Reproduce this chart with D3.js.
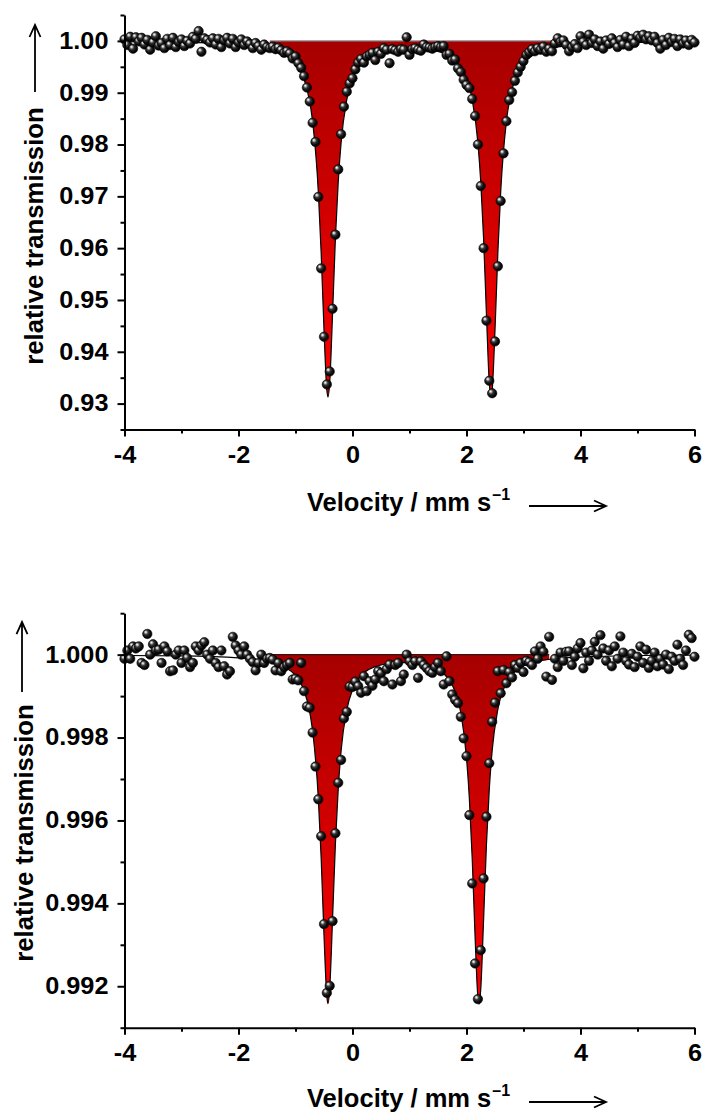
<!DOCTYPE html>
<html lang="en">
<head>
<meta charset="UTF-8">
<title>Mössbauer spectra</title>
<script src="https://cdn.jsdelivr.net/npm/d3@7"></script>
<style>
  body { margin: 0; background: #fff; }
  svg text { font-family: "Liberation Sans", Arial, sans-serif; font-weight: bold; fill: #000; }
</style>
</head>
<body>
<div id="chart"></div>
<script>
// velocity channels: -4 .. 6 mm/s, one point every 0.05 mm/s
const velStart = -4, velStep = 0.05;

// upper spectrum, relative transmission per channel (rows of 10, start velocity in comment)
const transTop = [
  1.0003, 0.9992, 1.0008, 0.9985, 1.0007, 0.9999, 1.0006, 0.9993, 1.0002, 0.9983, // -4.00
  0.9997, 1.0009, 0.9991, 0.9996, 0.9986, 1.0004, 0.9992, 1.0006, 0.9988, 0.9998, // -3.50
  1.0003, 0.9990, 1.0000, 0.9995, 1.0008, 1.0004, 1.0019, 0.9979, 1.0005, 1.0002, // -3.00
  0.9997, 1.0005, 0.9993, 1.0004, 0.9988, 1.0001, 1.0006, 0.9995, 1.0004, 0.9988, // -2.50
  0.9997, 1.0003, 0.9992, 0.9999, 0.9994, 0.9986, 0.9996, 0.9990, 0.9983, 0.9993, // -2.00
  0.9988, 0.9986, 0.9989, 0.9984, 0.9987, 0.9982, 0.9977, 0.9980, 0.9976, 0.9966, // -1.50
  0.9970, 0.9957, 0.9948, 0.9932, 0.9910, 0.9883, 0.9842, 0.9805, 0.9699, 0.9561, // -1.00
  0.9429, 0.9337, 0.9362, 0.9483, 0.9626, 0.9752, 0.9820, 0.9873, 0.9902, 0.9918, // -0.50
  0.9928, 0.9945, 0.9958, 0.9965, 0.9958, 0.9970, 0.9973, 0.9977, 0.9963, 0.9979, //  0.00
  0.9975, 0.9986, 0.9983, 0.9957, 0.9984, 0.9982, 0.9979, 0.9984, 0.9983, 1.0007, //  0.50
  0.9973, 0.9984, 0.9986, 0.9983, 0.9981, 0.9993, 0.9988, 0.9987, 0.9985, 0.9988, //  1.00
  0.9990, 0.9988, 0.9990, 0.9973, 0.9975, 0.9962, 0.9964, 0.9947, 0.9940, 0.9925, //  1.50
  0.9915, 0.9909, 0.9888, 0.9855, 0.9800, 0.9720, 0.9600, 0.9460, 0.9344, 0.9320, //  2.00
  0.9420, 0.9565, 0.9691, 0.9783, 0.9845, 0.9886, 0.9901, 0.9923, 0.9939, 0.9950, //  2.50
  0.9961, 0.9973, 0.9978, 0.9984, 0.9980, 0.9986, 0.9983, 0.9989, 0.9979, 0.9985, //  3.00
  0.9980, 0.9995, 1.0005, 0.9998, 1.0001, 0.9992, 0.9980, 0.9988, 0.9994, 0.9986, //  3.50
  1.0009, 0.9998, 0.9992, 1.0012, 0.9996, 1.0003, 0.9990, 0.9999, 0.9985, 1.0001, //  4.00
  0.9994, 1.0005, 0.9996, 0.9988, 1.0002, 0.9993, 1.0008, 0.9990, 1.0004, 0.9996, //  4.50
  1.0010, 1.0006, 1.0012, 1.0003, 1.0009, 1.0001, 1.0008, 0.9996, 0.9985, 1.0002, //  5.00
  0.9992, 1.0006, 0.9998, 1.0004, 0.9990, 1.0003, 0.9995, 1.0001, 0.9992, 1.0002, //  5.50
  0.9997                                                                          //  6.00
];

// lower spectrum
const transBottom = [
  0.99990, 1.00010, 0.99990, 1.00020, 1.00015, 1.00020, 0.99980, 0.99975, 1.00050, 1.00000, // -4.00
  1.00025, 1.00010, 1.00012, 0.99980, 1.00020, 1.00008, 0.99960, 0.99962, 1.00000, 1.00010, // -3.50
  0.99980, 1.00010, 0.99992, 0.99970, 0.99980, 1.00020, 1.00010, 1.00022, 1.00030, 1.00000, // -3.00
  0.99990, 1.00010, 0.99980, 0.99970, 1.00010, 0.99972, 0.99952, 0.99960, 1.00043, 1.00022, // -2.50
  1.00010, 1.00000, 1.00020, 1.00000, 0.99990, 0.99982, 0.99962, 0.99980, 1.00000, 0.99980, // -2.00
  0.99990, 0.99992, 0.99988, 0.99962, 0.99980, 0.99960, 0.99970, 0.99975, 0.99980, 0.99940, // -1.50
  0.99942, 0.99938, 0.99980, 0.99912, 0.99875, 0.99872, 0.99812, 0.99730, 0.99651, 0.99562, // -1.00
  0.99350, 0.99184, 0.99201, 0.99357, 0.99569, 0.99691, 0.99746, 0.99846, 0.99862, 0.99923, // -0.50
  0.99922, 0.99935, 0.99924, 0.99908, 0.99948, 0.99912, 0.99936, 0.99925, 0.99940, 0.99960, //  0.00
  0.99955, 0.99936, 0.99965, 0.99976, 0.99928, 0.99975, 0.99980, 0.99936, 0.99952, 1.00000, //  0.50
  0.99984, 0.99975, 0.99984, 0.99944, 0.99984, 0.99975, 0.99968, 0.99960, 0.99956, 0.99970, //  1.00
  0.99980, 0.99960, 0.99928, 0.99996, 0.99936, 0.99904, 0.99891, 0.99883, 0.99850, 0.99798, //  1.50
  0.99755, 0.99613, 0.99448, 0.99255, 0.99169, 0.99287, 0.99460, 0.99609, 0.99738, 0.99838, //  2.00
  0.99884, 0.99960, 0.99907, 0.99963, 0.99931, 0.99958, 0.99945, 0.99975, 0.99968, 0.99980, //  2.50
  0.99958, 0.99985, 0.99982, 0.99975, 1.00008, 0.99990, 1.00020, 1.00007, 0.99947, 1.00043, //  3.00
  0.99939, 0.99990, 0.99970, 1.00005, 0.99985, 1.00007, 1.00008, 0.99975, 0.99995, 1.00015, //  3.50
  1.00028, 0.99967, 1.00005, 0.99985, 1.00010, 1.00031, 1.00000, 1.00047, 1.00015, 0.99985, //  4.00
  1.00010, 0.99972, 1.00020, 0.99990, 1.00044, 1.00005, 0.99985, 0.99976, 1.00002, 0.99970, //  4.50
  0.99995, 1.00020, 0.99980, 1.00012, 0.99968, 0.99985, 1.00005, 0.99972, 0.99990, 0.99976, //  5.00
  1.00000, 0.99965, 0.99995, 0.99985, 1.00024, 0.99990, 0.99975, 1.00010, 1.00048, 1.00040, //  5.50
  0.99995                                                                                   //  6.00
];

// fitted curves
const fitTopVel = [-4, -3, -2, -1.5, -1.2, -1.0, -0.9, -0.8, -0.7, -0.6,
  -0.55, -0.5, -0.45, -0.43, -0.4, -0.35, -0.3, -0.25, -0.2, -0.1,
  0, 0.1, 0.2, 0.3, 0.4, 0.5, 0.6, 0.7, 0.8, 0.9,
  1.0, 1.1, 1.2, 1.3, 1.4, 1.5, 1.6, 1.7, 1.8, 1.9,
  2.0, 2.1, 2.2, 2.25, 2.3, 2.35, 2.4, 2.43, 2.45, 2.5,
  2.55, 2.6, 2.7, 2.8, 2.9, 3.0, 3.2, 3.5, 4, 5, 6];
const fitTopTrans = [0.99985, 0.99973, 0.99935, 0.99867, 0.99755, 0.99572, 0.99392, 0.99075, 0.98453, 0.97100,
  0.95916, 0.94425, 0.93257, 0.93126, 0.93406, 0.94726, 0.96186, 0.97286, 0.98037, 0.98868,
  0.99276, 0.99497, 0.99627, 0.99708, 0.99762, 0.99799, 0.99824, 0.99841, 0.99852, 0.99858,
  0.99861, 0.99858, 0.99852, 0.99841, 0.99824, 0.99798, 0.99762, 0.99708, 0.99627, 0.99497,
  0.99276, 0.98868, 0.98030, 0.9728, 0.9618, 0.9472, 0.9340, 0.9313, 0.9325, 0.9442,
  0.9591, 0.9709, 0.9845, 0.9907, 0.9939, 0.9957, 0.9975, 0.9986, 0.9993, 0.9997, 0.9998];

const fitBotVel = [-4, -3, -2, -1.5, -1.2, -1.0, -0.9, -0.8, -0.7, -0.6,
  -0.55, -0.5, -0.45, -0.43, -0.4, -0.35, -0.3, -0.25, -0.2, -0.1,
  0, 0.2, 0.4, 0.6, 0.8, 1.0, 1.2, 1.4, 1.6, 1.7,
  1.8, 1.9, 2.0, 2.05, 2.1, 2.15, 2.2, 2.22, 2.25, 2.3,
  2.35, 2.4, 2.45, 2.55, 2.7, 2.9, 3.2, 3.6, 4, 5, 6];
const fitBotTrans = [0.99998, 0.99997, 0.99992, 0.99984, 0.99971, 0.99950, 0.99929, 0.99891, 0.99817, 0.99654,
  0.99510, 0.99323, 0.99175, 0.99158, 0.99194, 0.99362, 0.99543, 0.99677, 0.99768, 0.99867,
  0.99915, 0.99956, 0.99971, 0.99978, 0.99981, 0.99981, 0.99978, 0.99971, 0.99954, 0.99938,
  0.99911, 0.99860, 0.99751, 0.99653, 0.99509, 0.99322, 0.99173, 0.99157, 0.99193, 0.99361,
  0.99542, 0.99676, 0.99768, 0.99868, 0.99932, 0.99964, 0.99982, 0.99991, 0.99994, 0.99998, 0.99999];

// velocity range of the shaded sub-spectrum
const fillTopRange = [-1.45, 3.55];
const fillBotRange = [-1.42, 3.45];

// ticks
const xTicks = [-4, -2, 0, 2, 4, 6];
const xMinor = [-3, -1, 1, 3, 5];
const yTicksTop = [0.93, 0.94, 0.95, 0.96, 0.97, 0.98, 0.99, 1.00];
const yMinorTop = [0.925, 0.935, 0.945, 0.955, 0.965, 0.975, 0.985, 0.995, 1.005];
const yTicksBot = [0.992, 0.994, 0.996, 0.998, 1.000];
const yMinorBot = [0.991, 0.993, 0.995, 0.997, 0.999, 1.001];

const W = 702, H = 1113;
const svg = d3.select('#chart').append('svg')
  .attr('width', W).attr('height', H)
  .style('display', 'block')
  .style('background', '#fff');

const defs = svg.append('defs');

// shiny black ball marker
const ball = defs.append('radialGradient')
  .attr('id', 'ball')
  .attr('cx', '42%').attr('cy', '40%').attr('r', '62%')
  .attr('fx', '32%').attr('fy', '30%');
[['0%', '#ffffff'], ['14%', '#c8c8c8'], ['38%', '#3a3a3a'], ['70%', '#0c0c0c'], ['100%', '#000']]
  .forEach(([o, c]) => ball.append('stop').attr('offset', o).attr('stop-color', c));

const x = d3.scaleLinear().domain([-4, 6]).range([124.5, 694.5]);

// the original lettering is a little wider than Arial bold
function widen(sel, k) {
  sel.each(function () {
    const w = this.getComputedTextLength();
    d3.select(this).attr('textLength', w * k).attr('lengthAdjust', 'spacingAndGlyphs');
  });
}

function drawPanel(cfg) {
  const y = d3.scaleLinear().domain(cfg.yDomain).range(cfg.yRange);
  const g = svg.append('g');

  const vel = cfg.trans.map((_, i) => velStart + i * velStep);
  const pts = cfg.trans.map((t, i) => [vel[i], t]);
  const fit = cfg.fitVel.map((v, i) => [v, cfg.fitTrans[i]]);

  // gradient for the shaded sub-spectrum
  const grad = defs.append('linearGradient')
    .attr('id', cfg.id + '-fill')
    .attr('gradientUnits', 'userSpaceOnUse')
    .attr('x1', 0).attr('x2', 0)
    .attr('y1', y(1)).attr('y2', y(d3.min(cfg.fitTrans)));
  grad.append('stop').attr('offset', '0%').attr('stop-color', '#a60000');
  grad.append('stop').attr('offset', '100%').attr('stop-color', '#ff0000');

  const fitAt = d3.scaleLinear().domain(cfg.fitVel).range(cfg.fitTrans);
  const [lo, hi] = cfg.fillRange;
  const fillPts = [[lo, fitAt(lo)]]
    .concat(fit.filter(d => d[0] > lo && d[0] < hi))
    .concat([[hi, fitAt(hi)]]);

  const area = d3.area()
    .x(d => x(d[0]))
    .y0(y(1))
    .y1(d => y(d[1]))
    .curve(d3.curveMonotoneX);

  g.append('path')
    .datum(fillPts)
    .attr('d', area)
    .attr('fill', `url(#${cfg.id}-fill)`);

  g.append('line')
    .attr('x1', x(lo)).attr('x2', x(hi))
    .attr('y1', y(1)).attr('y2', y(1))
    .attr('stroke', cfg.topLine)
    .attr('stroke-width', 1.2);

  const line = d3.line()
    .x(d => x(d[0]))
    .y(d => y(d[1]))
    .curve(d3.curveMonotoneX);

  g.append('path')
    .datum(fit)
    .attr('d', line)
    .attr('fill', 'none')
    .attr('stroke', '#000')
    .attr('stroke-width', 1.2);

  g.append('g')
    .selectAll('circle')
    .data(pts)
    .join('circle')
    .attr('cx', d => x(d[0]))
    .attr('cy', d => y(d[1]))
    .attr('r', 4.7)
    .attr('fill', 'url(#ball)')
    .attr('stroke', '#000')
    .attr('stroke-width', 0.6);

  // axes
  g.append('g')
    .attr('transform', `translate(0,${cfg.yRange[0]})`)
    .call(d3.axisBottom(x).tickValues(xTicks).tickSize(7).tickSizeOuter(0).tickPadding(10)
      .tickFormat(d => String(d)));
  g.append('g')
    .attr('transform', `translate(0,${cfg.yRange[0]})`)
    .call(d3.axisBottom(x).tickValues(xMinor).tickSize(4).tickSizeOuter(0).tickFormat(''))
    .select('.domain').remove();

  g.append('g')
    .attr('transform', `translate(${x(-4)},0)`)
    .call(d3.axisLeft(y).tickValues(cfg.yTicks).tickSize(7).tickSizeOuter(0).tickPadding(9)
      .tickFormat(d3.format(cfg.fmt)));
  g.append('g')
    .attr('transform', `translate(${x(-4)},0)`)
    .call(d3.axisLeft(y).tickValues(cfg.yMinor).tickSize(4).tickSizeOuter(0).tickFormat(''))
    .select('.domain').remove();

  g.selectAll('.domain').attr('stroke', '#000').attr('stroke-width', 2);
  g.selectAll('.tick line').attr('stroke', '#000').attr('stroke-width', 2);
  g.selectAll('.tick text')
    .attr('font-family', '"Liberation Sans", Arial, sans-serif')
    .attr('font-weight', 'bold')
    .attr('font-size', 23)
    .call(widen, 1.1);

  // y title with arrow
  g.append('text')
    .attr('transform', `translate(${cfg.yTitleX},${cfg.yTitleY}) rotate(-90)`)
    .attr('text-anchor', 'middle')
    .attr('font-size', 25)
    .text('relative transmission')
    .call(widen, 1.03);

  const ax = cfg.yArrowX, a0 = cfg.yArrow[0], a1 = cfg.yArrow[1];
  g.append('path')
    .attr('d', `M${ax},${a0}V${a1}M${ax - 5.5},${a1 + 12}L${ax},${a1}L${ax + 5.5},${a1 + 12}`)
    .attr('fill', 'none')
    .attr('stroke', '#000')
    .attr('stroke-width', 1.8);

  // x title with arrow
  const xt = g.append('text')
    .attr('x', 307)
    .attr('y', cfg.xTitleY)
    .attr('font-size', 25.5);
  xt.append('tspan').text('Velocity / mm s');
  xt.append('tspan').attr('font-size', 16).attr('dx', 1).attr('dy', -11).text('\u20131');

  const ay = cfg.xTitleY - 5;
  g.append('path')
    .attr('d', `M529,${ay}H606M594,${ay - 5.5}L606,${ay}L594,${ay + 5.5}`)
    .attr('fill', 'none')
    .attr('stroke', '#000')
    .attr('stroke-width', 1.8);
}

drawPanel({
  id: 'top',
  trans: transTop,
  fitVel: fitTopVel, fitTrans: fitTopTrans,
  fillRange: fillTopRange,
  yDomain: [0.925, 1.005], yRange: [429.5, 15],
  yTicks: yTicksTop, yMinor: yMinorTop, fmt: '.2f',
  topLine: '#8a8a8a',
  yTitleX: 43, yTitleY: 236, yArrowX: 35, yArrow: [92, 25],
  xTitleY: 511
});

drawPanel({
  id: 'bot',
  trans: transBottom,
  fitVel: fitBotVel, fitTrans: fitBotTrans,
  fillRange: fillBotRange,
  yDomain: [0.991, 1.001], yRange: [1027.7, 613.2],
  yTicks: yTicksBot, yMinor: yMinorBot, fmt: '.3f',
  topLine: '#3a1010',
  yTitleX: 33, yTitleY: 833, yArrowX: 22, yArrow: [692, 622],
  xTitleY: 1107
});
</script>
</body>
</html>
